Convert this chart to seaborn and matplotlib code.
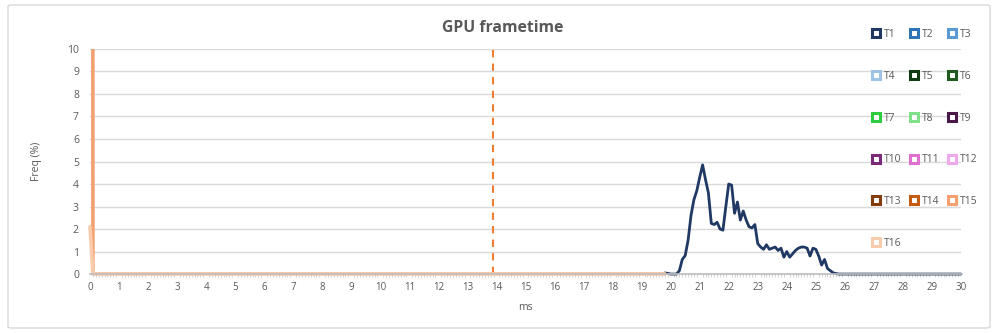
import numpy as np
import pandas as pd
import matplotlib
matplotlib.use("Agg")
import matplotlib.pyplot as plt
from matplotlib.lines import Line2D
from matplotlib.patches import FancyBboxPatch
import seaborn as sns

# ---------------- data ----------------
series_names = [f"T{i}" for i in range(1, 17)]
series_colors = ["#1F3864", "#2E75B6", "#5B9BD5", "#9DC3E6",
                 "#0E3B12", "#1E5A1E", "#2ECC40", "#7FE08A",
                 "#4A1848", "#7A2A78", "#E070D0", "#F0A8EC",
                 "#843C0C", "#C55A11", "#F4A070", "#F8CBAD"]

# T1: frametime histogram, 0.1 ms bins from 19.8 ms to 30.0 ms
t1_start = 19.8
t1_vals = [0.05, 0.03, 0.0, 0.0, 0.0, 0.15, 0.65, 0.82, 1.5, 2.6,
           3.3, 3.7, 4.3, 4.85, 4.2, 3.6, 2.25, 2.2, 2.3, 2.0,
           1.95, 3.0, 4.0, 3.95, 2.7, 3.2, 2.4, 2.8, 2.4, 2.1,
           2.05, 2.2, 1.35, 1.2, 1.1, 1.3, 1.1, 1.15, 1.2, 1.05,
           1.15, 0.75, 1.0, 0.75, 0.9, 1.05, 1.15, 1.2, 1.2, 1.15,
           0.8, 1.15, 1.1, 0.8, 0.4, 0.65, 0.25, 0.15, 0.05, 0.02]
t1_vals = t1_vals + [0.0] * (int(round((30.0 - t1_start) * 10)) + 1 - len(t1_vals))

# T15 / T16: spike at 0 ms (off the scale for T15), then zero up to 19.8 ms
t15_vals = [1000.0] + [0.0] * 198
t16_vals = [2.1] + [0.0] * 198

target_ms = 13.89

x_ticks = list(range(0, 31))
y_ticks = list(range(0, 11))

# ---------------- build frame ----------------
rows = []
def add(name, start, vals):
    for i, v in enumerate(vals):
        rows.append((name, round(start + i * 0.1, 1), v))
add("T1", t1_start, t1_vals)
add("T15", 0.0, t15_vals)
add("T16", 0.0, t16_vals)
df = pd.DataFrame(rows, columns=["series", "ms", "freq"])
palette = dict(zip(series_names, series_colors))

# ---------------- plot ----------------
sns.set_theme(style="white")
plt.rcParams["font.family"] = ["Open Sans", "DejaVu Sans"]

fig = plt.figure(figsize=(10, 3.33), dpi=100)
ax = fig.add_axes([0.09, 0.177, 0.871, 0.676])

widths = {"T1": 2.0, "T15": 2.6, "T16": 2.6}
clips = {"T1": False, "T15": True, "T16": False}
for name in ["T1", "T15", "T16"]:
    sub = df[df["series"] == name]
    sns.lineplot(data=sub, x="ms", y="freq", color=palette[name], lw=widths[name],
                 estimator=None, sort=False, legend=False, ax=ax,
                 solid_joinstyle="round", clip_on=clips[name])

ax.axvline(target_ms, ymin=0, ymax=1, color="#ED7D31", lw=1.5,
           linestyle=(0, (3.5, 3)), zorder=1)

ax.set_xlim(0, 30)
ax.set_ylim(0, 10)
ax.set_xticks(x_ticks)
ax.set_xticks(np.arange(0, 30.01, 0.1), minor=True)
ax.set_yticks(y_ticks)
ax.tick_params(axis="x", which="major", length=0, labelsize=7, colors="#595959", pad=6)
ax.tick_params(axis="x", which="minor", length=2.5, width=0.5, color="#BFBFBF", bottom=True)
ax.tick_params(axis="y", length=0, labelsize=7.5, colors="#595959", pad=8)
ax.yaxis.grid(True, color="#D9D9D9", lw=1.0)
ax.set_axisbelow(True)
for s in ["top", "right", "left"]:
    ax.spines[s].set_visible(False)
ax.spines["bottom"].set_color("#BFBFBF")

ax.set_xlabel("ms", fontsize=7.5, color="#595959", labelpad=6)
ax.set_ylabel("Freq (%)", fontsize=7.5, color="#595959", labelpad=18)
fig.suptitle("GPU frametime", x=0.503, y=0.915, va="center", fontsize=11.3,
             fontweight="bold", color="#595959")

# legend, laid out row-wise like the original (column-major order for matplotlib)
handles = {n: Line2D([], [], linestyle="none", marker="s", markersize=6,
                     markerfacecolor="white", markeredgecolor=palette[n],
                     markeredgewidth=2.2, label=n) for n in series_names}
order = ["T1", "T4", "T7", "T10", "T13", "T16",
         "T2", "T5", "T8", "T11", "T14",
         "T3", "T6", "T9", "T12", "T15"]
fig.legend([handles[n] for n in order], order, ncol=3, loc="upper left",
           bbox_to_anchor=(0.869, 0.925), frameon=False, fontsize=7.5,
           labelcolor="#595959", handlelength=0.6, handletextpad=0.4,
           columnspacing=0.95, labelspacing=2.95, borderaxespad=0)

fig.patches.append(FancyBboxPatch((0.008, 0.015), 0.982, 0.97, boxstyle="round,pad=0,rounding_size=0.004",
                                  transform=fig.transFigure, fill=False,
                                  edgecolor="#D9D9D9", lw=1.0))

fig.savefig("out.png", dpi=100)
